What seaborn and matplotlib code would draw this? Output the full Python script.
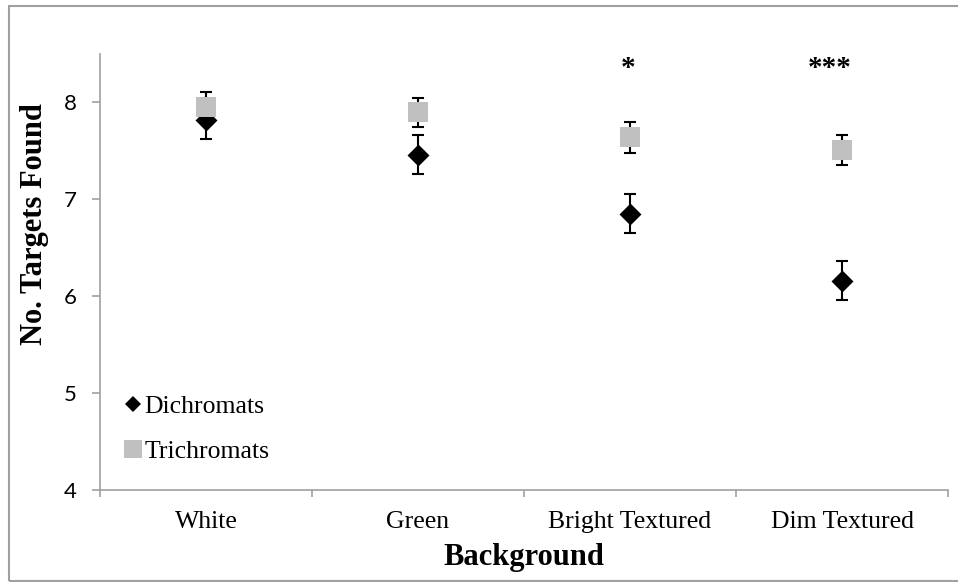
import numpy as np
import pandas as pd
import seaborn as sns
import matplotlib.pyplot as plt
from matplotlib.lines import Line2D
from matplotlib.patches import Rectangle

# Mean number of targets found per background, with standard errors
backgrounds = ["White", "Green", "Bright Textured", "Dim Textured"]
dichromat_mean = [7.82, 7.46, 6.85, 6.16]
dichromat_err = [0.20, 0.20, 0.20, 0.20]
trichromat_mean = [7.95, 7.90, 7.64, 7.51]
trichromat_err = [0.16, 0.15, 0.16, 0.155]
significance = {"Bright Textured": "*", "Dim Textured": "***"}
groups = ["Dichromats", "Trichromats"]

df = pd.DataFrame({
    "Background": backgrounds * 2,
    "pos": list(range(len(backgrounds))) * 2,
    "group": [groups[0]] * 4 + [groups[1]] * 4,
    "mean": dichromat_mean + trichromat_mean,
    "err": dichromat_err + trichromat_err,
})

sns.set_theme(style="white")
plt.rcParams["font.family"] = ["Liberation Serif", "DejaVu Serif"]
plt.rcParams["text.color"] = "black"
plt.rcParams["xtick.bottom"] = True
plt.rcParams["ytick.left"] = True

W, H = 958, 582
fig = plt.figure(figsize=(W / 100, H / 100), dpi=100)
ax = fig.add_axes([100 / W, 1 - 490 / H, 848 / W, (490 - 54) / H])

colors = {"Dichromats": "black", "Trichromats": "#c0c0c0"}
markers = {"Dichromats": "D", "Trichromats": "s"}
sizes = {"Dichromats": 125, "Trichromats": 225}

# error bars under the markers
for g in groups:
    sub = df[df["group"] == g]
    ax.errorbar(sub["pos"], sub["mean"], yerr=sub["err"], fmt="none",
                ecolor="black", elinewidth=1.5, capsize=4.2, capthick=1.5,
                zorder=2)

for g in groups:
    sub = df[df["group"] == g]
    sns.scatterplot(data=sub, x="pos", y="mean", marker=markers[g],
                    color=colors[g], s=sizes[g], linewidth=0, ax=ax,
                    legend=False, zorder=3)

# significance stars above each pair
star_offsets = {"*": -0.01, "***": -0.057}
for name, stars in significance.items():
    i = backgrounds.index(name)
    ax.text(i + star_offsets[stars], 8.27, stars, ha="center", va="baseline",
            fontsize=21, fontweight="bold", color="black")

ax.set_xlim(-0.5, len(backgrounds) - 0.5)
ax.set_ylim(4, 8.5)
ax.set_yticks([4, 5, 6, 7, 8])
ax.set_yticklabels(["4", "5", "6", "7", "8"], fontfamily="Lato", fontsize=16)
ax.set_xticks(range(len(backgrounds)))
ax.set_xticklabels(backgrounds, fontsize=18.5)
ax.set_xticks(np.arange(-0.5, len(backgrounds)), minor=True)

axis_grey = "#a0a0a0"
for side in ["top", "right"]:
    ax.spines[side].set_visible(False)
for side in ["left", "bottom"]:
    ax.spines[side].set_color(axis_grey)
    ax.spines[side].set_linewidth(1.2)

ax.tick_params(axis="x", which="major", bottom=False, length=0, pad=15,
               labelcolor="black")
ax.tick_params(axis="x", which="minor", bottom=True, length=5, width=1.2,
               color=axis_grey, direction="out")
ax.tick_params(axis="y", which="major", left=True, length=6, width=1.2,
               color=axis_grey, direction="out", pad=11, labelcolor="black")

ax.set_xlabel("")
ax.set_ylabel("")
fig.text(524 / W, 1 - 558 / H, "Background", ha="center", va="center",
         fontsize=22, fontweight="bold", color="black")
fig.text(35 / W, 1 - 224 / H, "No. Targets Found", ha="center", va="center",
         rotation=90, fontsize=22, fontweight="bold", color="black")

handles = [
    Line2D([], [], marker="D", linestyle="none", color="black",
           markersize=8.5, markeredgewidth=0),
    Line2D([], [], marker="s", linestyle="none", color="#c0c0c0",
           markersize=12.5, markeredgewidth=0),
]
leg = ax.legend(handles, groups, loc="lower left",
                bbox_to_anchor=(15 / 848, 17 / 436), frameon=False,
                fontsize=18.5, handlelength=0.6, handletextpad=0.15,
                labelspacing=0.85, borderaxespad=0)
for t in leg.get_texts():
    t.set_color("black")

# outer frame around the whole chart
fig.patches.append(Rectangle((8.5 / W, 1 - 581 / H), 1.2, (581 - 5.5) / H,
                             transform=fig.transFigure, fill=False,
                             edgecolor=axis_grey, linewidth=1.5,
                             clip_on=False))

fig.savefig("out.png", dpi=100)
